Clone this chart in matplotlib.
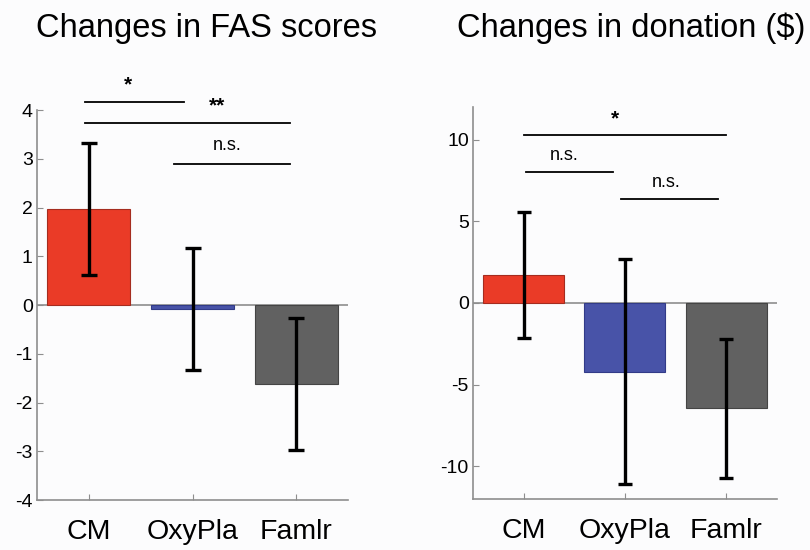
import matplotlib.pyplot as plt
import numpy as np

plt.rcParams['font.family'] = ['Liberation Sans', 'DejaVu Sans']

# Data
groups = ['CM', 'OxyPla', 'Famlr']
colors = ['#EA3B27', '#4853A8', '#616161']
edges = ['#A52C1F', '#323B88', '#444444']

fas_mean = [1.97, -0.08, -1.62]
fas_err = [1.35, 1.26, 1.35]

don_mean = [1.7, -4.2, -6.45]
don_err = [3.85, 6.88, 4.27]

# significance brackets: (x start, x end, height, label, label x)
fas_sig = [(-0.04, 0.92, 4.17, '*', 0.38),
           (-0.04, 1.94, 3.74, '**', 1.24),
           (0.82, 1.94, 2.9, 'n.s.', 1.33)]
don_sig = [(0.0, 2.0, 10.3, '*', 0.9),
           (0.02, 0.88, 8.0, 'n.s.', 0.4),
           (0.96, 1.92, 6.34, 'n.s.', 1.41)]

axis_gray = '#8e8e8e'
bg = '#fcfcfd'

fig = plt.figure(figsize=(8.1, 5.5), dpi=100, facecolor=bg)
ax1 = fig.add_axes([0.0457, 0.0909, 0.384, 0.709])
ax2 = fig.add_axes([0.584, 0.0927, 0.375, 0.713])


def draw_panel(ax, means, errs, sig, ylim, yticks, text_gap, capsize):
    x = np.arange(len(groups))
    ax.set_facecolor(bg)
    ax.bar(x, means, width=0.8, color=colors, edgecolor=edges, linewidth=0.8, zorder=2)
    ax.axhline(0, color=axis_gray, linewidth=1.2, zorder=1)
    ax.errorbar(x, means, yerr=errs, fmt='none', ecolor='black', elinewidth=2.4,
                capsize=capsize, capthick=2.4, zorder=3)
    for x0, x1, h, label, tx in sig:
        ax.plot([x0, x1], [h, h], color='black', linewidth=1.3, clip_on=False)
        if label == 'n.s.':
            ax.text(tx, h + text_gap, label, ha='center', va='bottom', fontsize=13,
                    clip_on=False)
        else:
            ax.text(tx, h + text_gap * 0.8, label, ha='center', va='bottom', fontsize=15,
                    fontweight='bold', clip_on=False)
    ax.set_xlim(-0.5, 2.5)
    ax.set_ylim(*ylim)
    ax.set_yticks(yticks)
    ax.set_yticklabels([str(t) for t in yticks])
    ax.set_xticks(x)
    ax.set_xticklabels(groups, fontsize=20.5)
    ax.tick_params(axis='y', direction='in', length=4, color=axis_gray, labelsize=14, pad=3)
    ax.tick_params(axis='x', direction='in', length=4, color=axis_gray, pad=14)
    for side in ['top', 'right']:
        ax.spines[side].set_visible(False)
    for side in ['left', 'bottom']:
        ax.spines[side].set_color(axis_gray)
        ax.spines[side].set_linewidth(1.2)


draw_panel(ax1, fas_mean, fas_err, fas_sig, (-4, 4), [-4, -3, -2, -1, 0, 1, 2, 3, 4], 0.2, 6)
draw_panel(ax2, don_mean, don_err, don_sig, (-12, 12), [-10, -5, 0, 5, 10], 0.5, 5)

# panel titles
fig.text(206 / 810, 1 - 37 / 550, 'Changes in FAS scores', fontsize=23.5,
         ha='center', va='baseline')
fig.text(631 / 810, 1 - 37 / 550, 'Changes in donation ($)', fontsize=23.5,
         ha='center', va='baseline')

fig.savefig('out.png', dpi=100, facecolor=fig.get_facecolor())
plt.close()
